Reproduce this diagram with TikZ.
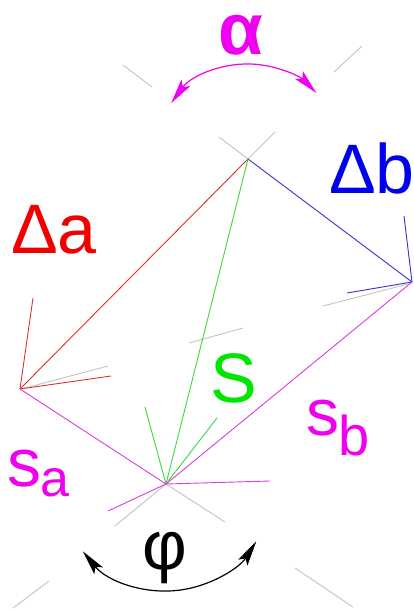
\documentclass[tikz,border=0pt]{standalone}
\usepackage{fontspec}
\setmainfont{Liberation Sans}
\usetikzlibrary{arrows.meta}
\definecolor{tred}{RGB}{240,0,0}
\definecolor{lred}{RGB}{225,45,45}
\definecolor{tblue}{RGB}{0,0,235}
\definecolor{lblue}{RGB}{50,50,205}
\definecolor{tgreen}{RGB}{0,230,0}
\definecolor{lgreen}{RGB}{60,215,60}
\definecolor{tmag}{RGB}{240,0,240}
\definecolor{lmag}{RGB}{220,60,220}
\definecolor{lgray}{RGB}{195,195,195}
\tikzset{
  thinline/.style={line width=0.9pt},
  arcline/.style={line width=1.2pt, {Stealth[length=25pt,width=11pt,inset=5pt]}-{Stealth[length=25pt,width=11pt,inset=5pt]}},
  grayline/.style={thinline, draw=lgray},
  lbl/.style={inner sep=0pt, outer sep=0pt, anchor=base west},
  bigfont/.style={font=\fontsize{70}{70}\selectfont},
}
\begin{document}
\begin{tikzpicture}[x=1pt,y=-1pt]
\useasboundingbox[fill=white] (0,0) rectangle (413,610);
% main points
\coordinate (T) at (248,159);
\coordinate (R) at (412,282);
\coordinate (L) at (20,389);
\coordinate (B) at (166,484);
% gray construction ends
\coordinate (gT1) at (219,137);
\coordinate (gT2) at (275,132);
\coordinate (gA1) at (123,65);
\coordinate (gA2) at (152,87);
\coordinate (gA3) at (334,72);
\coordinate (gA4) at (362,46);
\coordinate (gR0) at (408,284);
\coordinate (gR1) at (323,306);
\coordinate (gL0) at (25,388);
\coordinate (gL1) at (108,366);
\coordinate (gM0) at (189,343);
\coordinate (gM1) at (243,328);
\coordinate (gB1) at (115,526);
\coordinate (gB2) at (225,522);
\coordinate (gP1) at (13,608);
\coordinate (gP2) at (49,581);
\coordinate (gP3) at (295,568);
\coordinate (gP4) at (353,607);
% arrow wing ends
\coordinate (rw1) at (33,298);
\coordinate (rw2) at (111,376);
\coordinate (bw1) at (404,216);
\coordinate (bw2) at (347,293);
\coordinate (gw1) at (145,407);
\coordinate (gw2) at (217,418);
\coordinate (mw1) at (270,481);
\coordinate (mw2) at (108,511);

% gray lines
\draw[grayline] (T) -- (gT1);
\draw[grayline] (T) -- (gT2);
\draw[grayline] (gA1) -- (gA2);
\draw[grayline] (gA3) -- (gA4);
\draw[grayline] (gR0) -- (gR1);
\draw[grayline] (gL0) -- (gL1);
\draw[grayline] (gM0) -- (gM1);
\draw[grayline] (B) -- (gB1);
\draw[grayline] (B) -- (gB2);
\draw[grayline] (gP1) -- (gP2);
\draw[grayline] (gP3) -- (gP4);

% red
\draw[thinline, lred] (T) -- (L);
\draw[thinline, lred] (L) -- (rw1);
\draw[thinline, lred] (L) -- (rw2);
% blue
\draw[thinline, lblue] (T) -- (R);
\draw[thinline, lblue] (R) -- (bw1);
\draw[thinline, lblue] (R) -- (bw2);
% green
\draw[thinline, lgreen] (T) -- (B);
\draw[thinline, lgreen] (B) -- (gw1);
\draw[thinline, lgreen] (B) -- (gw2);
% magenta
\draw[thinline, lmag] (L) -- (B);
\draw[thinline, lmag] (B) -- (R);
\draw[thinline, lmag] (B) -- (mw1);
\draw[thinline, lmag] (B) -- (mw2);

% angle arcs
\draw[arcline, tmag]
  ([shift={(216:95)}]T) arc[start angle=216, end angle=316, radius=95];
\draw[arcline, black]
  ([shift={(141:107)}]B) arc[start angle=141, end angle=32.5, radius=107];

% labels
\node[lbl, bigfont, text=tred] (da) at (11,253) {Δa};
\node[lbl, bigfont, text=tblue] (db) at (329,193) {Δb};
\node[lbl, bigfont, text=tgreen] (S) at (210,402) {S};
\node[lbl, font=\fontsize{66}{66}\selectfont, text=tmag] (sb) at (306,435) {s};
\node[lbl, font=\fontsize{56}{56}\selectfont, text=tmag] (sbi) at (338,455) {b};
\node[lbl, font=\fontsize{68}{68}\selectfont, text=tmag] (sa) at (8,486) {s};
\node[lbl, font=\fontsize{52}{52}\selectfont, text=tmag] (sai) at (40,496) {a};
\node[inner sep=0pt, anchor=base, font=\bfseries\fontsize{73}{73}\selectfont, text=tmag] (alpha) at (241,55) {α};
\node[inner sep=0pt, anchor=base, font=\fontsize{69}{69}\selectfont, text=black] (phi) at (165,569) {φ};
\end{tikzpicture}
\end{document}
